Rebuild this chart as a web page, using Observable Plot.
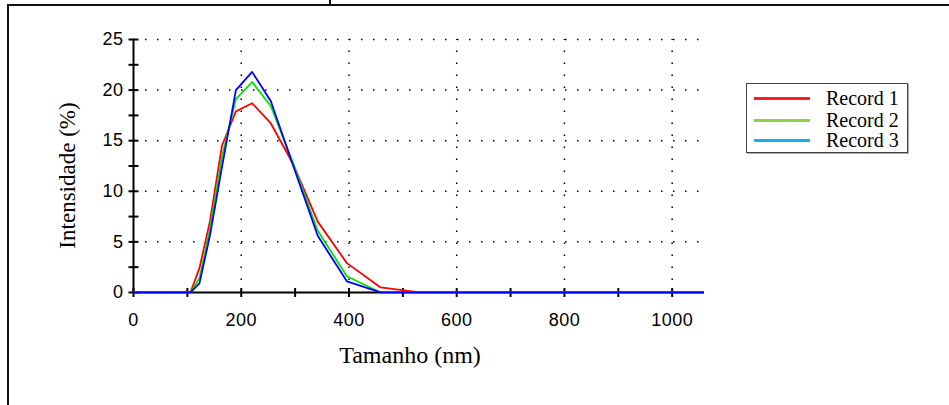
<!DOCTYPE html>
<html><head><meta charset="utf-8">
<script src="https://cdn.jsdelivr.net/npm/d3@7"></script>
<script src="https://cdn.jsdelivr.net/npm/@observablehq/plot@0.6"></script>
<style>
body{margin:0;background:#fff;}
#wrap{position:relative;width:949px;height:405px;overflow:hidden;background:#fff;}
#frame{position:absolute;left:7px;top:4px;width:1000px;height:500px;border-left:2px solid #111;border-top:2px solid #111;}
#stub{position:absolute;left:329px;top:0;width:2px;height:5px;background:#111;}
#chart{position:absolute;left:0;top:0;}
#legend{position:absolute;left:746px;top:83px;width:160px;height:68px;border:1.5px solid #444;box-shadow:1px 1px 0 #aaa;background:#fff;font-family:"Liberation Serif",serif;font-size:20px;color:#000;}
.row{position:absolute;left:0;height:22px;}
.sw{position:absolute;left:7px;width:56px;height:3px;}
.lb{position:absolute;left:79px;white-space:nowrap;line-height:22px;}
g[aria-label="x-axis tick label"] text, g[aria-label="y-axis tick label"] text{letter-spacing:0.5px;}
</style>
</head><body>
<div id="wrap"><div id="frame"></div><div id="stub"></div><div id="chart"></div><div id="legend"></div></div>
<script>
// Malvern size bins (nm) and intensity (%) for each record
const sizes   = [0.4, 91.28, 105.7, 122.4, 141.8, 164.2, 190.1, 220.2, 255.0, 295.3, 342.0, 396.1, 458.7, 531.2, 615.1, 712.4, 825.0, 955.4, 1106];
const record1 = [0,   0,     0,     2.4,   7.0,   14.5,  17.9,  18.7,  16.7,  12.8,  7.0,   2.9,   0.5,   0,     0,     0,     0,     0,     0];
const record2 = [0,   0,     0,     1.4,   6.2,   13.4,  19.1,  20.8,  18.4,  12.9,  6.1,   1.6,   0,     0,     0,     0,     0,     0,     0];
const record3 = [0,   0,     0,     0.9,   5.6,   12.4,  20.0,  21.8,  18.9,  12.7,  5.6,   1.1,   0,     0,     0,     0,     0,     0,     0];
const seriesNames  = ["Record 1", "Record 2", "Record 3"];
const lineColors   = ["#ff0000", "#00e400", "#0000ff"];
const legendColors = ["#ff1e1e", "#8ed24c", "#16b0f0"];
const xTickValues  = [0, 100, 200, 300, 400, 500, 600, 700, 800, 900, 1000];
const xTickLabels  = [0, 200, 400, 600, 800, 1000];
const yTickValues  = [0, 2.5, 5, 7.5, 10, 12.5, 15, 17.5, 20, 22.5, 25];
const yTickLabels  = [0, 5, 10, 15, 20, 25];
const xGrid = [200, 400, 600, 800, 1000];
const yGrid = [5, 10, 15, 20, 25];
const xTitle = "Tamanho (nm)";
const yTitle = "Intensidade (%)";

const allSeries = [record1, record2, record3];
const table = allSeries.flatMap((vals, s) => sizes.map((size, i) => ({series: seriesNames[s], size, value: vals[i]})));

const vBar = {draw(ctx, size){const r = Math.sqrt(size / Math.PI); ctx.moveTo(0, -r); ctx.lineTo(0, r);}};
const hBar = {draw(ctx, size){const r = Math.sqrt(size / Math.PI); ctx.moveTo(-r, 0); ctx.lineTo(r, 0);}};
const dotted = {stroke: "#000", strokeOpacity: 1, strokeWidth: 1.5, strokeDasharray: "1.5,10.5"};

const chart = Plot.plot({
  width: 949, height: 405,
  marginLeft: 133, marginRight: 245, marginTop: 39, marginBottom: 110,
  x: {domain: [0, 1060]},
  y: {domain: [-0.3, 25]},
  color: {domain: seriesNames, range: lineColors},
  style: {background: "transparent", overflow: "visible"},
  marks: [
    Plot.gridY(yGrid, dotted),
    Plot.gridX(xGrid, {...dotted, y1: 0, y2: 25}),
    Plot.ruleY([0], {stroke: "#000", strokeWidth: 2}),
    Plot.ruleX([0], {y1: 0, y2: 25, stroke: "#000", strokeWidth: 2}),
    Plot.dot(xTickValues, {x: d => d, y: 0, symbol: vBar, r: 4.5, stroke: "#000", fill: "none", strokeWidth: 2}),
    Plot.dot(yTickValues, {x: 0, y: d => d, symbol: hBar, r: 5, stroke: "#000", fill: "none", strokeWidth: 2}),
    Plot.axisX(xTickLabels, {y: 0, tickSize: 0, tickPadding: 21, tickFormat: d => String(d), fontSize: 18, fontFamily: "Liberation Sans, Arial", fill: "#000", label: null}),
    Plot.axisY(yTickLabels, {tickSize: 0, tickPadding: 10, tickFormat: d => String(d), fontSize: 18, fontFamily: "Liberation Sans, Arial", fill: "#000", label: null}),
    Plot.text([yTitle], {text: d => d, frameAnchor: "left", textAnchor: "middle", lineAnchor: "middle", dx: -66, dy: 8, rotate: -90, fontSize: 23, fontFamily: "Liberation Serif, serif", fill: "#000"}),
    Plot.text([xTitle], {text: d => d, frameAnchor: "bottom", textAnchor: "middle", lineAnchor: "middle", dx: -9, dy: 60, fontSize: 24, fontFamily: "Liberation Serif, serif", fill: "#000"}),
    Plot.line(table, {x: "size", y: "value", z: "series", stroke: "series", strokeWidth: 1.8, clip: true})
  ]
});
document.getElementById("chart").appendChild(chart);

const legend = document.getElementById("legend");
const rowTops = [3, 25, 45];
seriesNames.forEach((name, i) => {
  const row = document.createElement("div");
  row.className = "row";
  row.style.top = rowTops[i] + "px";
  row.innerHTML = `<div class="sw" style="top:10px;background:${legendColors[i]}"></div><div class="lb">${name}</div>`;
  legend.appendChild(row);
});
</script>
</body></html>
